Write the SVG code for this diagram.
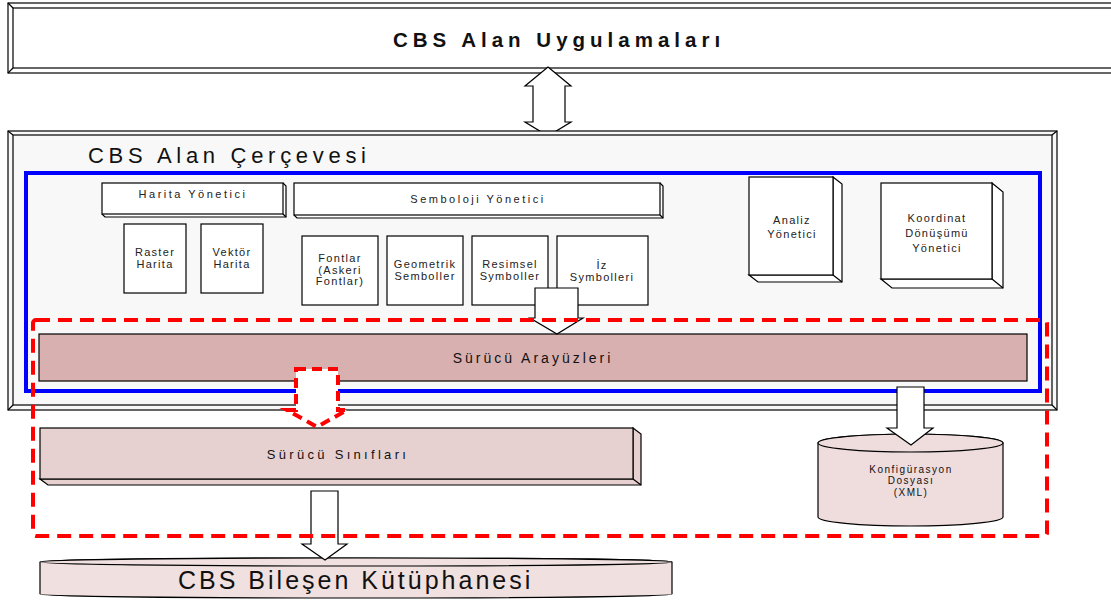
<svg xmlns="http://www.w3.org/2000/svg" width="1111" height="601" viewBox="0 0 1111 601">
<defs>
<style>
text{font-family:"Liberation Sans",Arial,sans-serif;fill:#111;}
.ln{fill:none;stroke:#000;stroke-width:1.2;}
.bx{fill:#fff;stroke:#000;stroke-width:1.2;}
.lbl{font-size:11px;letter-spacing:1.3px;text-anchor:middle;fill:#222;}
.hdr{font-size:11px;letter-spacing:2.5px;text-anchor:middle;fill:#222;}
.arr{fill:#fff;stroke:#000;stroke-width:1.2;}
</style>
</defs>
<rect width="1111" height="601" fill="#fff"/>

<g id="apps">
<rect x="8" y="3" width="1112" height="70" class="bx"/>
<rect x="13" y="8" width="1107" height="60" class="ln"/>
<path d="M8,3 L13,8 M8,73 L13,68" class="ln"/>
<text x="393" y="47" style="font-size:20.5px;font-weight:bold;letter-spacing:5px">CBS Alan Uygulamaları</text>
</g>

<g id="connectors-top">
<path d="M548,67 L571,86 L565,86 L565,122 L571,122 L548,136 L525,122 L533,122 L533,86 L525,86 Z" class="arr"/>
</g>

<g id="framework">
<rect x="8" y="131" width="1049" height="279" fill="#f8f8f8" stroke="#000" stroke-width="1.2"/>
<rect x="13" y="135" width="1039" height="270" class="ln"/>
<path d="M8,131 L13,135 M1057,131 L1052,135 M8,410 L13,405 M1057,410 L1052,405" class="ln"/>
<text x="88" y="163" style="font-size:22px;letter-spacing:4.7px">CBS Alan Çerçevesi</text>
<rect x="26" y="173" width="1014" height="218" fill="none" stroke="#0000ff" stroke-width="4"/>
</g>

<g id="harita-yonetici">
<path d="M283,183 L286,186 L286,217 L105,217 L102,214" class="bx"/>
<path d="M283,214 L286,217" class="ln"/>
<rect x="102" y="183" width="181" height="31" class="bx"/>
<text x="193" y="198" class="hdr">Harita Yönetici</text>
</g>

<g id="semboloji-yonetici">
<path d="M660,183 L663,186 L663,218 L297,218 L294,215" class="bx"/>
<path d="M660,215 L663,218" class="ln"/>
<rect x="294" y="183" width="366" height="32" class="bx"/>
<text x="478" y="203" class="hdr">Semboloji Yönetici</text>
</g>

<g id="raster-harita">
<rect x="124" y="224" width="62" height="69" class="bx"/>
<text x="155" y="256" class="lbl">Raster</text>
<text x="155" y="268" class="lbl">Harita</text>
</g>

<g id="vektor-harita">
<rect x="201" y="224" width="62" height="69" class="bx"/>
<text x="232" y="256" class="lbl">Vektör</text>
<text x="232" y="268" class="lbl">Harita</text>
</g>

<g id="fontlar">
<rect x="302" y="236" width="76" height="69" class="bx"/>
<text x="340" y="262" class="lbl">Fontlar</text>
<text x="340" y="274" class="lbl">(Askeri</text>
<text x="340" y="285" class="lbl">Fontlar)</text>
</g>

<g id="geometrik">
<rect x="387" y="236" width="76" height="69" class="bx"/>
<text x="425" y="268" class="lbl">Geometrik</text>
<text x="425" y="280" class="lbl">Semboller</text>
</g>

<g id="resimsel">
<rect x="472" y="236" width="76" height="69" class="bx"/>
<text x="510" y="268" class="lbl">Resimsel</text>
<text x="510" y="280" class="lbl">Symboller</text>
</g>

<g id="iz">
<rect x="557" y="236" width="91" height="69" class="bx"/>
<text x="602" y="269" class="lbl">İz</text>
<text x="602" y="281" class="lbl">Symbolleri</text>
</g>

<g id="analiz">
<path d="M833,177 L842,184 L842,282 L758,282 L749,275 L833,275 Z" class="bx"/>
<path d="M833,275 L842,282" class="ln"/>
<rect x="749" y="177" width="84" height="98" class="bx"/>
<text x="792" y="224" class="lbl">Analiz</text>
<text x="792" y="238" class="lbl">Yönetici</text>
</g>

<g id="koordinat">
<path d="M992,183 L1003,192 L1003,288 L892,288 L881,279 L992,279 Z" class="bx"/>
<path d="M992,279 L1003,288" class="ln"/>
<rect x="881" y="183" width="111" height="96" class="bx"/>
<text x="937" y="222" class="lbl">Koordinat</text>
<text x="937" y="237" class="lbl">Dönüşümü</text>
<text x="937" y="252" class="lbl">Yönetici</text>
</g>

<g id="surucu-arayuzleri">
<rect x="39" y="334" width="988" height="47" fill="#d8b0b0" stroke="#000" stroke-width="1.2"/>
<text x="533" y="363" style="font-size:14px;letter-spacing:3px;text-anchor:middle">Sürücü Arayüzleri</text>
</g>

<g id="surucu-siniflari">
<path d="M633,428 L641,434 L641,485 L48,485 L40,479 L633,479 Z" fill="#e6d0d0" stroke="#000" stroke-width="1.2"/>
<path d="M633,479 L641,485" class="ln"/>
<rect x="40" y="428" width="593" height="51" fill="#e6d0d0" stroke="#000" stroke-width="1.2"/>
<text x="338" y="459" style="font-size:13px;letter-spacing:3.3px;text-anchor:middle">Sürücü Sınıfları</text>
</g>

<g id="konfigurasyon">
<path d="M818,443 L818,517 A92.5,9 0 0 0 1003,517 L1003,443 A92.5,9 0 0 0 818,443 Z" fill="#efdcdc" stroke="#000" stroke-width="1.2"/>
<ellipse cx="910.5" cy="443" rx="92.5" ry="9" fill="#efdcdc" stroke="#000" stroke-width="1.2"/>
<text x="911" y="473" style="font-size:10px;letter-spacing:1.5px;text-anchor:middle">Konfigürasyon</text>
<text x="911" y="484" style="font-size:10px;letter-spacing:1.5px;text-anchor:middle">Dosyası</text>
<text x="911" y="496" style="font-size:10px;letter-spacing:1.5px;text-anchor:middle">(XML)</text>
</g>

<g id="bilesen-kutuphanesi">
<path d="M40,562 L40,594 A316,4 0 0 0 672,594 L672,562 A316,4 0 0 0 40,562 Z" fill="#f0e0e0" stroke="#000" stroke-width="1.2"/>
<ellipse cx="356" cy="562" rx="316" ry="4" fill="#f0e0e0" stroke="#000" stroke-width="1.2"/>
<text x="178" y="589" style="font-size:25px;letter-spacing:3px">CBS Bileşen Kütüphanesi</text>
</g>

<g id="connectors">
<path d="M535,288 L578,288 L578,318 L583,318 L557,334 L530,318 L535,318 Z" class="arr"/>
<path d="M897,387 L924,387 L924,428 L933,428 L911,445 L887,428 L897,428 Z" class="arr"/>
<path d="M311,491 L338,491 L338,544 L347,544 L325,560 L302,544 L311,544 Z" class="arr"/>
<rect x="33" y="320" width="1014" height="216" rx="3" fill="none" stroke="#ff0000" stroke-width="4" stroke-dasharray="14 8"/>
<path d="M296,369 L338,369 L338,410 L347,410 L317,427 L287,410 L296,410 Z" fill="#fff" stroke="#ff0000" stroke-width="4" stroke-dasharray="10 6"/>
</g>
</svg>
